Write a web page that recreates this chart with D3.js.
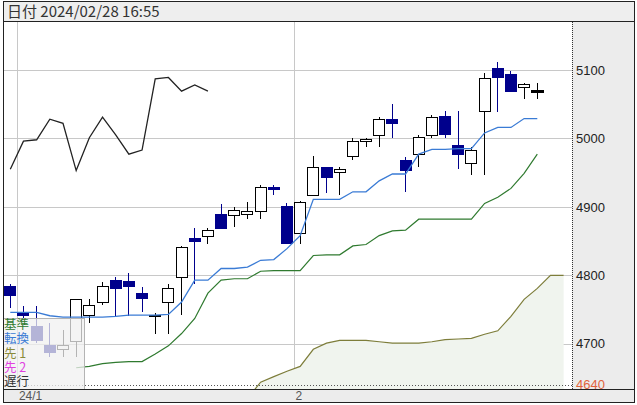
<!DOCTYPE html>
<html>
<head>
<meta charset="utf-8">
<script src="https://cdn.jsdelivr.net/npm/d3@7"></script>
<style>
    body { margin: 0; background: #fff; }
    svg text { font-family: "Liberation Sans", Arial, sans-serif; }
    .jp { font-family: "Noto Sans CJK JP", "Noto Sans", sans-serif; }
</style>
</head>
<body>
<div id="chart"></div>
<script>
// title and labels
const titleText = "日付 2024/02/28 16:55";
const monthStarts = [1, 22];
const monthLabels = ["24/1", "2"];
const yTicks = [4700, 4800, 4900, 5000, 5100];
const lowMark = 4640;

// daily candles, slot 0..40
const openP  = [4784,4745,4726,4698,4691,4703,4742,4761,4793,4791,4773,4741,4760,4797,4854,4857,4889,4888,4889,4893,4928,4900,4861,4916,4958,4950,4973,4995,5004,5028,4968,4977,5004,5032,4990,4963,5039,5102,5093,5075,5069];
const highP  = [4788,4755,4755,4730,4720,4765,4766,4791,4798,4803,4783,4745,4787,4843,4869,4869,4904,4900,4907,4932,4932,4906,4909,4975,4958,4958,5000,5001,5031,5050,4973,5005,5034,5040,5040,4987,5095,5112,5098,5081,5081];
const lowP   = [4752,4738,4701,4681,4681,4681,4730,4757,4740,4741,4747,4715,4715,4742,4788,4846,4868,4870,4882,4882,4917,4847,4846,4916,4920,4917,4969,4988,4988,5001,4921,4958,5000,5000,4956,4946,4946,5039,5069,5057,5057];
const closeP = [4770,4742,4705,4688,4698,4764,4756,4783,4781,4783,4766,4742,4781,4841,4850,4866,4868,4895,4893,4928,4925,4847,4906,4958,4943,4955,4996,4998,5028,5022,4953,5001,5031,5005,4977,4983,5087,5089,5069,5078,5069];

// 転換 (slot 0..40)
const tenkan = [4746,4746,4746,4741,4739,4739,4739,4739,4740,4742,4742,4742,4743,4761,4793,4793,4810,4810,4812,4822,4823,4839,4858,4911,4911,4911,4922,4922,4938,4948,4948,4977,4984,4984,4985,4985,5008,5016,5016,5029,5029];
// 基準 (slot 5..40)
const kijunStart = 5;
const kijun = [4665,4667,4671,4673,4674,4674,4685,4697,4715,4737,4774,4793,4795,4795,4806,4807,4807,4807,4829,4830,4830,4843,4845,4858,4865,4866,4882,4882,4882,4882,4882,4905,4914,4927,4949,4977];
// 先行1 (slot 18..42)
const spanAStart = 18;
const spanA = [4620,4644,4652,4660,4667,4692,4701,4705,4705,4705,4703,4701,4701,4701,4703,4706,4707,4708,4714,4719,4740,4765,4781,4800,4800];
// 遅行 (slot 0..15)
const chikou = [4955,4996,4998,5028,5022,4953,5001,5031,5005,4977,4983,5087,5089,5069,5078,5069];

const legendItems = [
    { text: "基準", color: "#2f7a2f" },
    { text: "転換", color: "#3a7bd5" },
    { text: "先 1", color: "#8a8a3a" },
    { text: "先 2", color: "#e040e0" },
    { text: "遅行", color: "#333" }
];

const width = 637, height = 405;
const plot = { left: 4, right: 572, top: 22, bottom: 389 };

const svg = d3.select("#chart").append("svg")
    .attr("width", width)
    .attr("height", height);

const x = d3.scaleLinear().domain([0, 40]).range([10.3, 537.3]);
const y = d3.scaleLinear().domain([4634, 5170]).range([plot.bottom, plot.top]);

svg.append("clipPath").attr("id", "plotClip")
    .append("rect")
    .attr("x", plot.left).attr("y", plot.top)
    .attr("width", plot.right - plot.left).attr("height", plot.bottom - plot.top);

// right panel and title bar
svg.append("rect")
    .attr("x", plot.right).attr("y", plot.top)
    .attr("width", 634 - plot.right).attr("height", plot.bottom - plot.top)
    .attr("fill", "#ececec");
svg.append("rect")
    .attr("x", 4).attr("y", 2).attr("width", 630).attr("height", 19)
    .attr("fill", "#eeeeee");
svg.append("text")
    .attr("class", "jp")
    .attr("x", 7).attr("y", 16.5)
    .attr("font-size", 15).attr("fill", "#333")
    .text(titleText);

const g = svg.append("g").attr("clip-path", "url(#plotClip)");

// grid
g.selectAll(".hgrid").data(yTicks).enter().append("line")
    .attr("x1", plot.left).attr("x2", plot.right)
    .attr("y1", d => Math.round(y(d)) + 0.5).attr("y2", d => Math.round(y(d)) + 0.5)
    .attr("stroke", "#c8c8c8");
g.selectAll(".vgrid").data(monthStarts).enter().append("line")
    .attr("x1", d => Math.round(x(d - 0.5)) + 0.5).attr("x2", d => Math.round(x(d - 0.5)) + 0.5)
    .attr("y1", plot.top).attr("y2", plot.bottom)
    .attr("stroke", "#c8c8c8");

// cloud (先行1, other span below view)
const spanData = spanA.map((v, k) => ({ i: spanAStart + k, v }));
g.append("path").datum(spanData)
    .attr("fill", "#f0f4ee")
    .attr("d", d3.area().x(d => x(d.i)).y0(plot.bottom).y1(d => y(d.v)));
g.append("path").datum(spanData)
    .attr("fill", "none").attr("stroke", "#7d7d3a").attr("stroke-width", 1.2)
    .attr("d", d3.line().x(d => x(d.i)).y(d => y(d.v)));

// low mark dotted line
g.append("line")
    .attr("x1", plot.left).attr("x2", plot.right)
    .attr("y1", Math.round(y(lowMark)) + 0.5).attr("y2", Math.round(y(lowMark)) + 0.5)
    .attr("stroke", "#555").attr("stroke-dasharray", "1,2");

// candles
const candles = openP.map((o, i) => ({ i, o, h: highP[i], l: lowP[i], c: closeP[i] }));
const up = d => d.c >= d.o;
const cg = g.append("g").attr("shape-rendering", "crispEdges");
const cs = cg.selectAll(".candle").data(candles).enter().append("g");
cs.append("line")
    .attr("x1", d => x(d.i)).attr("x2", d => x(d.i))
    .attr("y1", d => y(d.h)).attr("y2", d => y(d.l))
    .attr("stroke", d => up(d) ? "#000" : "#00008c");
cs.append("rect")
    .attr("x", d => x(d.i) - 5.5)
    .attr("width", 11)
    .attr("y", d => y(Math.max(d.o, d.c)))
    .attr("height", d => Math.max(1, y(Math.min(d.o, d.c)) - y(Math.max(d.o, d.c))))
    .attr("fill", d => up(d) ? "#fff" : "#00008c")
    .attr("stroke", d => up(d) ? "#000" : "#00008c")
    .attr("stroke-width", d => d.i === 40 ? 2 : 1);

// 転換 / 基準 / 遅行 lines
g.append("path").datum(tenkan)
    .attr("fill", "none").attr("stroke", "#3a7bd5").attr("stroke-width", 1.3)
    .attr("d", d3.line().x((d, i) => x(i)).y(d => y(d)));
g.append("path").datum(kijun)
    .attr("fill", "none").attr("stroke", "#2f7a2f").attr("stroke-width", 1.2)
    .attr("d", d3.line().x((d, k) => x(kijunStart + k)).y(d => y(d)));
g.append("path").datum(chikou)
    .attr("fill", "none").attr("stroke", "#222").attr("stroke-width", 1.3)
    .attr("d", d3.line().x((d, i) => x(i)).y(d => y(d)));

// legend box
const lg = svg.append("g");
lg.append("rect")
    .attr("x", 3.5).attr("y", 318.5).attr("width", 81).attr("height", 71)
    .attr("fill", "#f0f0f0").attr("fill-opacity", 0.75)
    .attr("stroke", "#b4b4b4");
lg.selectAll("text").data(legendItems).enter().append("text")
    .attr("class", "jp")
    .attr("x", 4).attr("y", (d, k) => 329 + k * 14.3)
    .attr("font-size", 12.5)
    .attr("fill", d => d.color)
    .text(d => d.text);

// y axis labels on the right
const yAxis = svg.append("g")
    .attr("transform", `translate(${plot.right + 4},0)`)
    .call(d3.axisRight(y).tickValues(yTicks).tickSize(0).tickPadding(0).tickFormat(d3.format("d")));
yAxis.select(".domain").remove();
yAxis.selectAll("text")
    .attr("font-family", "Liberation Sans, Arial, sans-serif")
    .attr("font-size", 13).attr("fill", "#222");

svg.append("text")
    .attr("x", plot.right + 4).attr("y", y(lowMark)).attr("dy", "0.35em")
    .attr("font-size", 13).attr("fill", "#e0643c")
    .text(lowMark);

// bottom strip
svg.append("rect")
    .attr("x", 4).attr("y", plot.bottom).attr("width", 630).attr("height", 402 - plot.bottom)
    .attr("fill", "#ececec");
svg.selectAll(".mlabel").data(monthStarts).enter().append("text")
    .attr("x", d => x(d - 0.5) + 2).attr("y", 400)
    .attr("font-size", 12).attr("fill", "#555")
    .text((d, k) => monthLabels[k]);

// frame lines
const frame = svg.append("g").attr("shape-rendering", "crispEdges");
frame.append("rect")
    .attr("x", 3.5).attr("y", 1.5).attr("width", 631).attr("height", 401)
    .attr("fill", "none").attr("stroke", "#222");
frame.append("line")
    .attr("x1", 4).attr("x2", 634).attr("y1", 21.5).attr("y2", 21.5)
    .attr("stroke", "#222");
frame.append("line")
    .attr("x1", 4).attr("x2", 634).attr("y1", plot.bottom + 0.5).attr("y2", plot.bottom + 0.5)
    .attr("stroke", "#222");
frame.append("line")
    .attr("x1", plot.right + 0.5).attr("x2", plot.right + 0.5)
    .attr("y1", plot.top).attr("y2", plot.bottom)
    .attr("stroke", "#333").attr("stroke-dasharray", "1,1");
</script>
</body>
</html>
